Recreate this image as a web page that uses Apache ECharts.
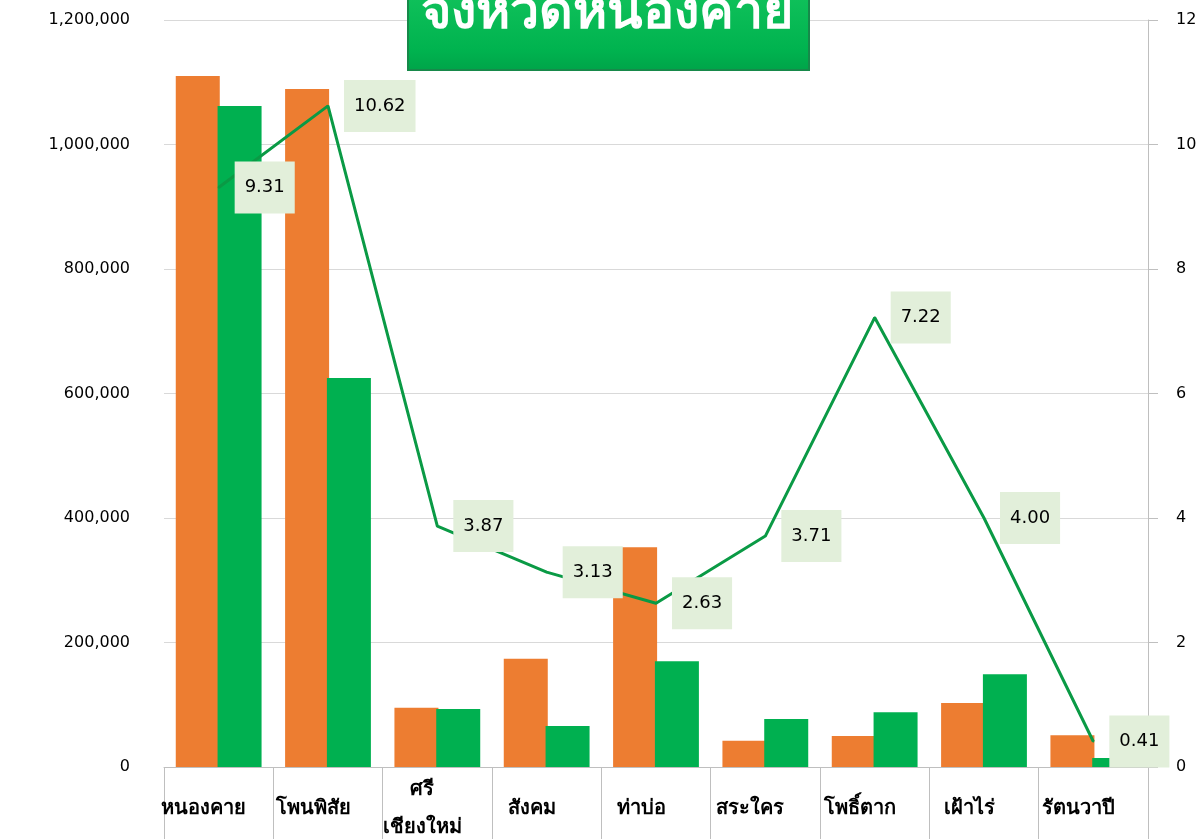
<!DOCTYPE html>
<html><head><meta charset="utf-8">
<script src="https://cdn.jsdelivr.net/npm/echarts@6/dist/echarts.min.js"></script>
<style>html,body{margin:0;padding:0;background:#fff}#c{width:1204px;height:839px}</style>
</head><body><div id="c"></div>
<script>
const categories = ['หนองคาย','โพนพิสัย','ศรี\nเชียงใหม่','สังคม','ท่าบ่อ','สระใคร','โพธิ์ตาก','เฝ้าไร่','รัตนวาปี'];
const orangeValues = [1110000,1089000,95000,174000,353000,42000,50000,103000,51000];
const greenValues = [1062000,625000,93000,66000,170000,77000,88000,149000,14500];
const lineValues = [9.31,10.62,3.87,3.13,2.63,3.71,7.22,4.00,0.41];
const titleText = 'จังหวัดหนองคาย';

const font = '"DejaVu Sans", "Noto Sans", sans-serif';
const chart = echarts.init(document.getElementById('c'));
chart.setOption({
  animation: false,
  grid: {left:164, right:56, top:20, bottom:72, outerBoundsMode:'none', containLabel:false},
  graphic: [
    {type:'rect', shape:{x:408, y:-12, width:401, height:82},
     style:{fill:new echarts.graphic.LinearGradient(0,0,0,1,[{offset:0,color:'#12c35c'},{offset:0.75,color:'#00b34f'},{offset:1,color:'#00a449'}]), stroke:'#17894a', lineWidth:2}, z:100},
    {type:'text', x:607, y:13, style:{text:titleText, fill:'#fff', font:'bold 52px "Noto Sans", sans-serif', align:'center', verticalAlign:'middle'}, z:101}
  ],
  xAxis: {
    type:'category', data:categories,
    axisLine:{lineStyle:{color:'#bfbfbf'}},
    axisTick:{show:true, length:80, lineStyle:{color:'#bfbfbf'}},
    axisLabel:{interval:0, color:'#000', fontSize:20, fontWeight:'bold', fontFamily:font, margin:42, verticalAlign:'middle', lineHeight:38, padding:[0,30,0,0]}
  },
  yAxis: [
    {type:'value', min:0, max:1200000, interval:200000,
     axisLine:{show:false}, axisTick:{show:false},
     splitLine:{lineStyle:{color:'#d9d9d9'}},
     axisLabel:{color:'#000', fontSize:16, fontFamily:font, margin:34, formatter:v=>v.toLocaleString('en-US')}},
    {type:'value', min:0, max:12, interval:2, position:'right',
     axisLine:{show:true, lineStyle:{color:'#bfbfbf'}}, axisTick:{show:true, length:10, lineStyle:{color:'#bfbfbf'}},
     splitLine:{show:false},
     axisLabel:{color:'#000', fontSize:16, fontFamily:font, margin:28}}
  ],
  series: [
    {name:'orange', type:'bar', data:orangeValues, barWidth:44, barGap:'-5%', itemStyle:{color:'#ed7d31'}},
    {name:'green', type:'bar', data:greenValues, barWidth:44, itemStyle:{color:'#00b050'}},
    {name:'line', type:'line', yAxisIndex:1, data:lineValues, symbol:'circle', symbolSize:2, showSymbol:true, showAllSymbol:true, z:5,
     itemStyle:{color:'#0a9a45'},
     lineStyle:{color:'#0a9a45', width:3},
     label:{show:true, position:'right', distance:15, formatter:p=>Number(p.value).toFixed(2), color:'#000', fontSize:18, fontFamily:font,
            backgroundColor:'#e2efda', padding:[17,10,17,10]}}
  ]
});
</script></body></html>
